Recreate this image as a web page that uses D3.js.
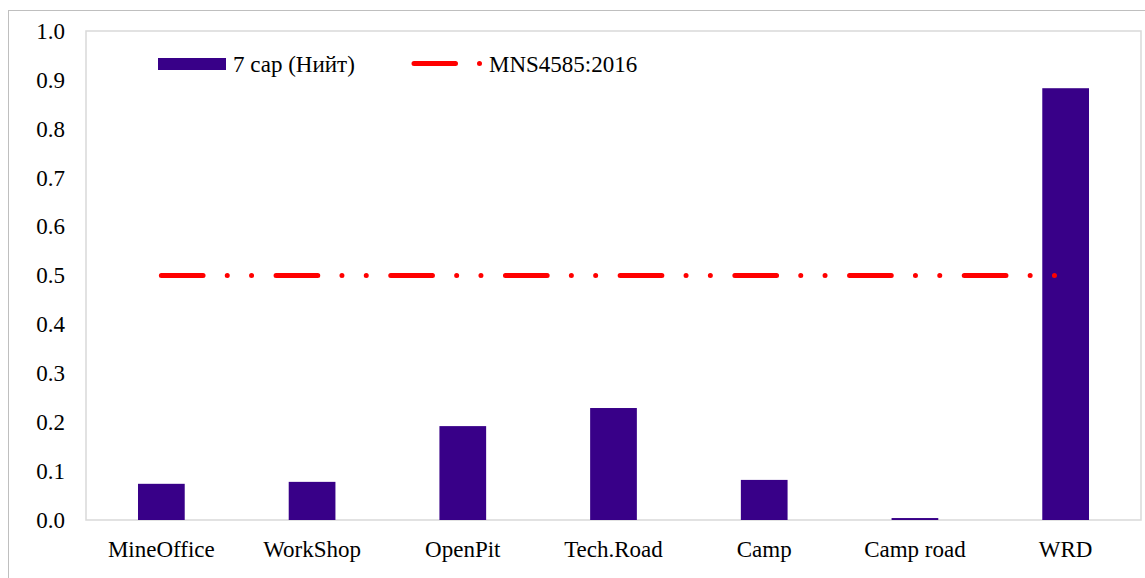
<!DOCTYPE html>
<html>
<head>
<meta charset="utf-8">
<script src="https://cdn.jsdelivr.net/npm/d3@7"></script>
<style>
  body { margin: 0; background: #fff; }
  svg { display: block; }
</style>
</head>
<body>
<svg id="chart"></svg>
<script>
// data
var categories = ["MineOffice", "WorkShop", "OpenPit", "Tech.Road", "Camp", "Camp road", "WRD"];
var values = [0.074, 0.078, 0.192, 0.229, 0.082, 0.004, 0.883];
var limitValue = 0.5;
var yTicks = [0, 0.1, 0.2, 0.3, 0.4, 0.5, 0.6, 0.7, 0.8, 0.9, 1.0];
var barLabel = "7 сар (Нийт)";
var lineLabel = "MNS4585:2016";

var W = 1145, H = 578;
var margin = {top: 31, right: 4, bottom: 58, left: 86};
var width = W - margin.left - margin.right,
    height = H - margin.top - margin.bottom;
var fontSize = "23px";
var fontFam = "Liberation Serif";

var svg = d3.select("#chart").attr("width", W).attr("height", H);

// outer chart frame
svg.append("rect")
  .attr("x", 8.5).attr("y", 10.5)
  .attr("width", W + 20).attr("height", H + 20)
  .attr("fill", "none")
  .attr("stroke", "#bfbfbf");

var g = svg.append("g")
  .attr("transform", "translate(" + margin.left + "," + margin.top + ")");

var x = d3.scaleBand()
  .domain(categories)
  .range([0, width])
  .paddingInner(0.69)
  .paddingOuter(0.345);

var xc = d3.scalePoint()
  .domain(categories)
  .range([0, width])
  .padding(0.5);

var y = d3.scaleLinear()
  .domain([0, 1])
  .range([height, 0]);

// plot area border
g.append("rect")
  .attr("x", 0).attr("y", 0)
  .attr("width", width).attr("height", height)
  .attr("fill", "none")
  .attr("stroke", "#d9d9d9")
  .attr("stroke-width", 1.5);

// Y axis
var yAxis = g.append("g")
  .call(d3.axisLeft(y).tickValues(yTicks).tickFormat(d3.format(".1f")).tickSize(0).tickPadding(21));
yAxis.select(".domain").remove();
yAxis.attr("font-family", fontFam);
yAxis.selectAll("text")
  .style("font-family", fontFam)
  .style("font-size", fontSize)
  .attr("fill", "#000");

// X axis
var xAxis = g.append("g")
  .attr("transform", "translate(0," + height + ")")
  .call(d3.axisBottom(x).tickSize(0).tickPadding(21));
xAxis.select(".domain").remove();
xAxis.attr("font-family", fontFam);
xAxis.selectAll("text")
  .style("font-family", fontFam)
  .style("font-size", fontSize)
  .attr("fill", "#000");

// Bars
g.selectAll("rect.bar")
  .data(values)
  .enter()
  .append("rect")
  .attr("class", "bar")
  .attr("x", function(d, i) { return x(categories[i]); })
  .attr("width", x.bandwidth())
  .attr("y", function(d) { return y(d); })
  .attr("height", function(d) { return height - y(d); })
  .attr("fill", "#380088");

// standard line
var dash = "41.7 24.2 0 24.3 0 24.5";
var line = d3.line()
  .x(function(d) { return xc(d); })
  .y(function() { return y(limitValue); });

g.append("path")
  .datum(categories)
  .attr("d", line)
  .attr("fill", "none")
  .attr("stroke", "#ff0000")
  .attr("stroke-width", 5)
  .attr("stroke-linecap", "round")
  .attr("stroke-dasharray", dash);

// Legend
var legend = svg.append("g");
legend.append("rect")
  .attr("x", 158).attr("y", 58)
  .attr("width", 68).attr("height", 12)
  .attr("fill", "#380088");
legend.append("text")
  .attr("x", 233).attr("y", 72)
  .text(barLabel)
  .style("font-family", fontFam)
  .style("font-size", fontSize)
  .attr("fill", "#000");

legend.append("path")
  .attr("d", "M414,63.5H482")
  .attr("stroke", "#ff0000")
  .attr("stroke-width", 5)
  .attr("stroke-linecap", "round")
  .attr("stroke-dasharray", "41.5 24 0 100");
legend.append("text")
  .attr("x", 489).attr("y", 72)
  .text(lineLabel)
  .style("font-family", fontFam)
  .style("font-size", fontSize)
  .attr("fill", "#000");
</script>
</body>
</html>
